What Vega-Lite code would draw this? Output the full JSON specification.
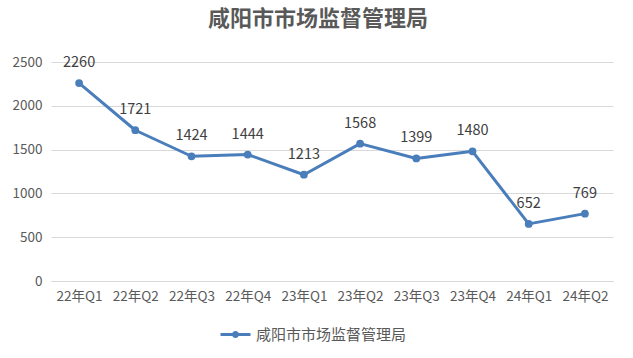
{
  "$schema": "https://vega.github.io/schema/vega-lite/v6.json",
  "width": 562,
  "height": 219,
  "autosize": {"type": "none"},
  "padding": {"left": 51, "top": 62, "right": 20, "bottom": 77},
  "background": "white",
  "view": {"stroke": null},
  "title": {
    "text": "咸阳市市场监督管理局",
    "font": "Noto Sans CJK SC",
    "fontSize": 22,
    "fontWeight": "bold",
    "color": "#595959",
    "anchor": "middle",
    "dx": -14,
    "offset": 24
  },
  "data": {
    "values": [
      {"q": "22年Q1", "v": 2260, "s": "咸阳市市场监督管理局"},
      {"q": "22年Q2", "v": 1721, "s": "咸阳市市场监督管理局"},
      {"q": "22年Q3", "v": 1424, "s": "咸阳市市场监督管理局"},
      {"q": "22年Q4", "v": 1444, "s": "咸阳市市场监督管理局"},
      {"q": "23年Q1", "v": 1213, "s": "咸阳市市场监督管理局"},
      {"q": "23年Q2", "v": 1568, "s": "咸阳市市场监督管理局"},
      {"q": "23年Q3", "v": 1399, "s": "咸阳市市场监督管理局"},
      {"q": "23年Q4", "v": 1480, "s": "咸阳市市场监督管理局"},
      {"q": "24年Q1", "v": 652, "s": "咸阳市市场监督管理局"},
      {"q": "24年Q2", "v": 769, "s": "咸阳市市场监督管理局"}
    ]
  },
  "encoding": {
    "x": {
      "field": "q", "type": "ordinal", "sort": null,
      "scale": {"paddingInner": 0, "paddingOuter": 0.5},
      "axis": {
        "title": null, "labelAngle": 0, "ticks": false, "domain": true,
        "domainColor": "#d9d9d9", "grid": false, "labelPadding": 8,
        "labelFont": "Noto Sans CJK SC", "labelFontSize": 13.5, "labelColor": "#595959"
      }
    },
    "y": {
      "field": "v", "type": "quantitative",
      "scale": {"domain": [0, 2500], "nice": false},
      "axis": {
        "title": null, "values": [0, 500, 1000, 1500, 2000, 2500], "format": "d",
        "ticks": false, "domain": false, "gridColor": "#d9d9d9",
        "labelPadding": 9, "labelFont": "Noto Sans CJK SC", "labelFontSize": 13.5,
        "labelColor": "#595959"
      }
    }
  },
  "layer": [
    {
      "mark": {"type": "line", "strokeWidth": 3, "strokeJoin": "round"},
      "encoding": {
        "color": {
          "field": "s", "type": "nominal",
          "scale": {"range": ["#4a7ebb"]},
          "legend": {
            "title": null, "orient": "none", "legendX": 177, "legendY": 265,
            "symbolType": "M-2,-0.2L2,-0.2L2,0.2L-2,0.2Z M0.47,0 A0.47,0.47 0 1,1 -0.47,0 A0.47,0.47 0 1,1 0.47,0Z",
            "symbolSize": 225, "symbolFillColor": "#4a7ebb", "symbolStrokeWidth": 0,
            "labelFont": "Noto Sans CJK SC", "labelFontSize": 15, "labelColor": "#595959",
            "labelOffset": 13
          }
        }
      }
    },
    {
      "mark": {"type": "point", "filled": true, "size": 60, "opacity": 1, "color": "#4a7ebb"}
    },
    {
      "mark": {"type": "text", "baseline": "bottom", "dy": -13, "font": "Noto Sans CJK SC", "fontSize": 14.5, "color": "#404040"},
      "encoding": {"text": {"field": "v", "type": "quantitative"}}
    }
  ]
}
